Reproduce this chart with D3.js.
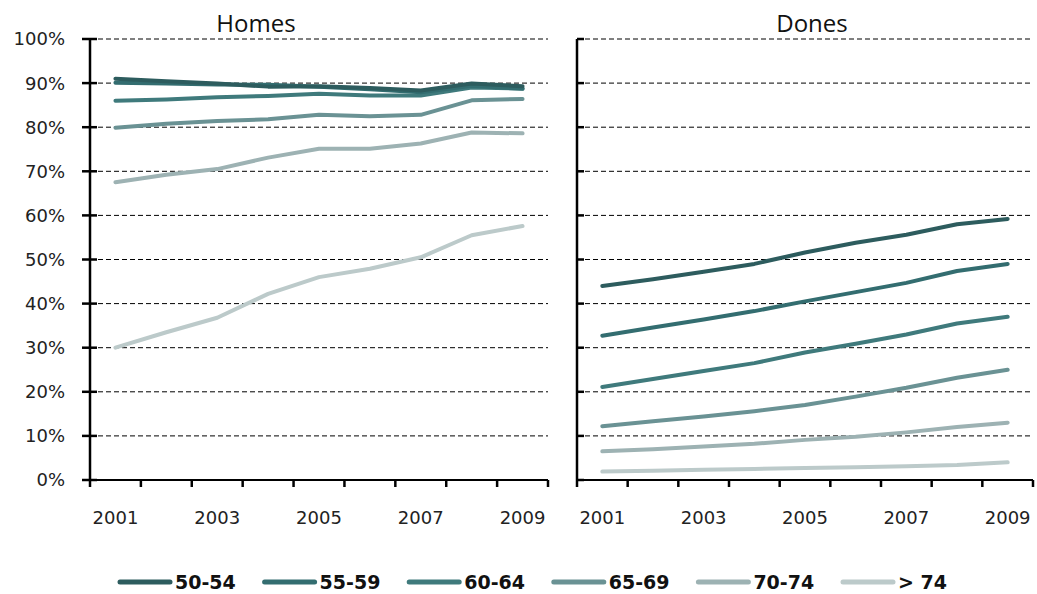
<!DOCTYPE html>
<html>
<head>
<meta charset="utf-8">
<script src="https://cdn.jsdelivr.net/npm/d3@7"></script>
<style>
  body { margin: 0; background: #fff; }
  svg { display: block; }
</style>
</head>
<body>
<svg id="chart" width="1037" height="594"></svg>
<script>
// years on the x axis
var years = [2001, 2002, 2003, 2004, 2005, 2006, 2007, 2008, 2009];
var yearLabels = [2001, 2003, 2005, 2007, 2009];
var yTicks = [0, 10, 20, 30, 40, 50, 60, 70, 80, 90, 100];
var groups = ["50-54", "55-59", "60-64", "65-69", "70-74", "> 74"];
var colors = ["#2d5c5e", "#336d70", "#3f7a7c", "#6a9294", "#9db2b3", "#bccaca"];

// Homes (%)
var homes5054 = [91.0, 90.4, 89.9, 89.2, 89.3, 88.9, 88.3, 89.9, 89.3];
var homes5559 = [90.1, 89.9, 89.7, 89.6, 89.2, 88.6, 87.9, 89.4, 88.7];
var homes6064 = [86.0, 86.3, 86.8, 87.1, 87.6, 87.2, 87.2, 89.0, 88.8];
var homes6569 = [79.9, 80.8, 81.4, 81.8, 82.8, 82.5, 82.8, 86.1, 86.4];
var homes7074 = [67.5, 69.2, 70.5, 73.1, 75.1, 75.1, 76.3, 78.8, 78.6];
var homes74 = [30.0, 33.5, 36.8, 42.2, 46.0, 47.9, 50.5, 55.5, 57.6];

// Dones (%)
var dones5054 = [44.0, 45.5, 47.2, 49.0, 51.6, 53.8, 55.6, 58.0, 59.2];
var dones5559 = [32.7, 34.6, 36.4, 38.3, 40.5, 42.6, 44.7, 47.4, 49.0];
var dones6064 = [21.1, 22.9, 24.7, 26.5, 28.9, 30.9, 33.0, 35.5, 37.0];
var dones6569 = [12.2, 13.3, 14.4, 15.6, 17.0, 18.9, 20.9, 23.2, 25.0];
var dones7074 = [6.5, 7.0, 7.6, 8.2, 9.1, 9.8, 10.8, 12.0, 13.0];
var dones74 = [1.9, 2.1, 2.3, 2.5, 2.7, 2.9, 3.1, 3.4, 4.0];

var homesSeries = [homes5054, homes5559, homes6064, homes6569, homes7074, homes74];
var donesSeries = [dones5054, dones5559, dones6064, dones6569, dones7074, dones74];

var svg = d3.select("#chart");
var plotTop = 39, plotBottom = 480;

var y = d3.scaleLinear().domain([0, 100]).range([plotBottom, plotTop]);

function drawPanel(left, right, title, titleX, series, showLabels) {
  var x = d3.scaleBand().domain(years).range([left, right]);
  var g = svg.append("g");

  // dashed grid
  g.selectAll("line.grid")
    .data(yTicks.filter(function (t) { return t > 0; }))
    .enter().append("line")
    .attr("class", "grid")
    .attr("x1", left).attr("x2", right)
    .attr("y1", function (d) { return y(d); })
    .attr("y2", function (d) { return y(d); })
    .attr("stroke", "#000")
    .attr("stroke-width", 1)
    .attr("stroke-dasharray", "5,3");

  // y axis
  g.append("line")
    .attr("x1", left).attr("x2", left)
    .attr("y1", plotTop).attr("y2", plotBottom)
    .attr("stroke", "#000").attr("stroke-width", 2.5);
  g.selectAll("line.ytick")
    .data(yTicks)
    .enter().append("line")
    .attr("class", "ytick")
    .attr("x1", showLabels ? left - 8 : left)
    .attr("x2", left + 7)
    .attr("y1", function (d) { return y(d); })
    .attr("y2", function (d) { return y(d); })
    .attr("stroke", "#000").attr("stroke-width", 2.5);

  if (showLabels) {
    g.selectAll("text.ylab")
      .data(yTicks)
      .enter().append("text")
      .attr("class", "ylab")
      .attr("x", left - 25)
      .attr("y", function (d) { return y(d); })
      .attr("dy", "0.36em")
      .attr("text-anchor", "end")
      .style("font-family", "DejaVu Sans")
      .style("font-size", "18px")
      .style("fill", "#222")
      .text(function (d) { return d + "%"; });
  }

  // x axis
  g.append("line")
    .attr("x1", left).attr("x2", right)
    .attr("y1", plotBottom).attr("y2", plotBottom)
    .attr("stroke", "#000").attr("stroke-width", 2);
  var edges = years.map(function (d) { return x(d); }).concat([right]);
  g.selectAll("line.xtick")
    .data(edges)
    .enter().append("line")
    .attr("class", "xtick")
    .attr("x1", function (d) { return d; })
    .attr("x2", function (d) { return d; })
    .attr("y1", plotBottom).attr("y2", plotBottom + 7)
    .attr("stroke", "#000").attr("stroke-width", 2.5);

  g.selectAll("text.xlab")
    .data(yearLabels)
    .enter().append("text")
    .attr("class", "xlab")
    .attr("x", function (d) { return x(d) + x.bandwidth() / 2; })
    .attr("y", 524)
    .attr("text-anchor", "middle")
    .style("font-family", "DejaVu Sans")
    .style("font-size", "18px")
    .style("fill", "#222")
    .text(function (d) { return d; });

  // title
  g.append("text")
    .attr("x", titleX)
    .attr("y", 32)
    .attr("text-anchor", "middle")
    .style("font-family", "Open Sans")
    .style("font-size", "24px")
    .style("fill", "#111")
    .text(title);

  var line = d3.line()
    .x(function (d, i) { return x(years[i]) + x.bandwidth() / 2; })
    .y(function (d) { return y(d); });

  // light series first, darkest on top
  for (var i = series.length - 1; i >= 0; i--) {
    g.append("path")
      .datum(series[i])
      .attr("d", line)
      .attr("fill", "none")
      .attr("stroke", colors[i])
      .attr("stroke-width", 4)
      .attr("stroke-linecap", "round")
      .attr("stroke-linejoin", "round");
  }
}

drawPanel(90, 548, "Homes", 256, homesSeries, true);
drawPanel(577, 1033, "Dones", 812, donesSeries, false);

// legend
var legendX = d3.scalePoint().domain(groups).range([120, 843]);
var leg = svg.append("g");
groups.forEach(function (name, i) {
  var lx = legendX(name);
  leg.append("line")
    .attr("x1", lx).attr("x2", lx + 50)
    .attr("y1", 582).attr("y2", 582)
    .attr("stroke", colors[i])
    .attr("stroke-width", 5)
    .attr("stroke-linecap", "round");
  leg.append("text")
    .attr("x", lx + 55)
    .attr("y", 582)
    .attr("dy", "0.36em")
    .style("font-family", "DejaVu Sans")
    .style("font-weight", "bold")
    .style("font-size", "19px")
    .style("fill", "#111")
    .text(name);
});
</script>
</body>
</html>
